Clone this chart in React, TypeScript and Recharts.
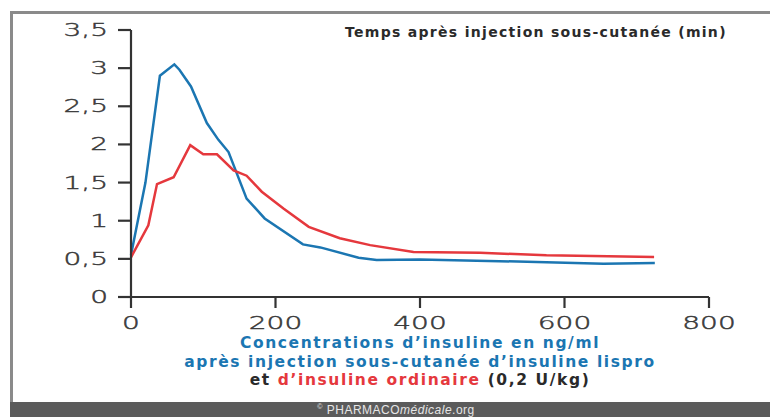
import React from 'react';
import { Line, LineChart, XAxis, YAxis } from 'recharts';

// Insulin concentration (ng/ml) versus time after sub-cutaneous injection (min).
const lisproTimes = [0, 20, 40, 60, 67, 83, 105, 121, 135, 160, 185, 238, 262, 315, 340, 400, 510, 654, 725];
const lisproValues = [0.55, 1.5, 2.9, 3.05, 2.98, 2.76, 2.28, 2.06, 1.9, 1.29, 1.03, 0.69, 0.65, 0.515, 0.485, 0.49, 0.47, 0.436, 0.445];

const regularTimes = [0, 24, 36, 59, 82, 100, 119, 142, 160, 181, 211, 246, 289, 331, 391, 483, 575, 724];
const regularValues = [0.52, 0.94, 1.48, 1.57, 1.99, 1.87, 1.87, 1.66, 1.59, 1.38, 1.16, 0.92, 0.77, 0.68, 0.59, 0.58, 0.546, 0.524];

const xTicks = [0, 200, 400, 600, 800];
const yTicks = [0, 0.5, 1, 1.5, 2, 2.5, 3, 3.5];

const BLUE = '#1b76b2';
const RED = '#e5383d';
const AXIS = '#333333';
const TICK_FONT = '"DejaVu Sans", sans-serif';

const lisproData = lisproTimes.map((t, i) => ({ t, v: lisproValues[i] }));
const regularData = regularTimes.map((t, i) => ({ t, v: regularValues[i] }));

const fmt = (v: number) => String(v).replace('.', ',');

// the original uses a very wide geometric face, so stretch the glyphs sideways
// and thicken the extra-light strokes a little
function TickText({ anchor, children }: { anchor: 'end' | 'middle'; children: React.ReactNode }) {
  return (
    <text
      textAnchor={anchor}
      fill="#3a3a3a"
      stroke="#3a3a3a"
      strokeWidth={0.45}
      fontFamily={TICK_FONT}
      fontWeight={200}
      fontSize={17.5}
    >
      {children}
    </text>
  );
}

function YTick({ x, y, payload }: { x?: number; y?: number; payload?: { value: number } }) {
  return (
    <g transform={`translate(${(x ?? 0) - 8},${(y ?? 0) + 6}) scale(1.6,1)`}>
      <TickText anchor="end">{fmt(payload?.value ?? 0)}</TickText>
    </g>
  );
}

function XTick({ x, y, payload }: { x?: number; y?: number; payload?: { value: number } }) {
  return (
    <g transform={`translate(${x ?? 0},${(y ?? 0) + 19}) scale(1.6,1)`}>
      <TickText anchor="middle">{payload?.value}</TickText>
    </g>
  );
}

const captionStyle: React.CSSProperties = {
  position: 'absolute',
  left: 0,
  width: 840,
  textAlign: 'center',
  fontFamily: TICK_FONT,
  fontWeight: 700,
  fontSize: 15.5,
  letterSpacing: 1.6,
  lineHeight: '18px',
  whiteSpace: 'nowrap'
};

export default function App() {
  return (
    <div style={{ position: 'relative', width: 770, height: 417, background: '#fff', overflow: 'hidden' }}>
      <style>{'body{margin:0}'}</style>
      {/* frame: grey top and left rules, dark footer band */}
      <div style={{ position: 'absolute', left: 10, top: 11, width: 760, height: 3, background: '#8a8a8a' }} />
      <div style={{ position: 'absolute', left: 10, top: 11, width: 3, height: 392, background: '#8a8a8a' }} />
      <div
        style={{
          position: 'absolute',
          left: 10,
          top: 402,
          width: 772,
          height: 15,
          background: '#5b5b5b',
          color: '#e6e6e6',
          fontFamily: '"Liberation Sans", sans-serif',
          fontSize: 12,
          lineHeight: '16px',
          textAlign: 'center',
          letterSpacing: 0.5
        }}
      >
        <span style={{ fontSize: 7, verticalAlign: 'top', lineHeight: '10px' }}>©</span> PHARMACO
        <i>médicale</i>.org
      </div>

      <div style={{ position: 'absolute', left: 0, top: 0 }}>
        <LineChart width={770} height={417} margin={{ top: 30, right: 61, bottom: 0, left: 0 }}>
          <XAxis
            type="number"
            dataKey="t"
            domain={[0, 800]}
            ticks={xTicks}
            height={120}
            tickSize={11}
            tickMargin={2}
            tick={<XTick />}
            axisLine={{ stroke: AXIS, strokeWidth: 2.2 }}
            tickLine={{ stroke: AXIS, strokeWidth: 2.2 }}
          />
          <YAxis
            type="number"
            domain={[0, 3.5]}
            ticks={yTicks}
            width={131}
            tickSize={13}
            tickMargin={2}
            tick={<YTick />}
            axisLine={{ stroke: AXIS, strokeWidth: 2.2 }}
            tickLine={{ stroke: AXIS, strokeWidth: 2.2 }}
          />
          <Line
            data={lisproData}
            dataKey="v"
            type="linear"
            stroke={BLUE}
            strokeWidth={2.5}
            dot={false}
            isAnimationActive={false}
          />
          <Line
            data={regularData}
            dataKey="v"
            type="linear"
            stroke={RED}
            strokeWidth={2.5}
            dot={false}
            isAnimationActive={false}
          />
        </LineChart>
      </div>

      <div
        style={{
          position: 'absolute',
          left: 345,
          top: 24,
          fontFamily: TICK_FONT,
          fontWeight: 700,
          fontSize: 14,
          letterSpacing: 1.3,
          color: '#2a2a2a',
          whiteSpace: 'nowrap'
        }}
      >
        Temps après injection sous-cutanée (min)
      </div>

      <div style={{ ...captionStyle, top: 334, color: BLUE }}>Concentrations d’insuline en ng/ml</div>
      <div style={{ ...captionStyle, top: 353, color: BLUE }}>après injection sous-cutanée d’insuline lispro</div>
      <div style={{ ...captionStyle, top: 371, color: '#2a2a2a' }}>
        et <span style={{ color: RED }}>d’insuline ordinaire</span> (0,2 U/kg)
      </div>
    </div>
  );
}
